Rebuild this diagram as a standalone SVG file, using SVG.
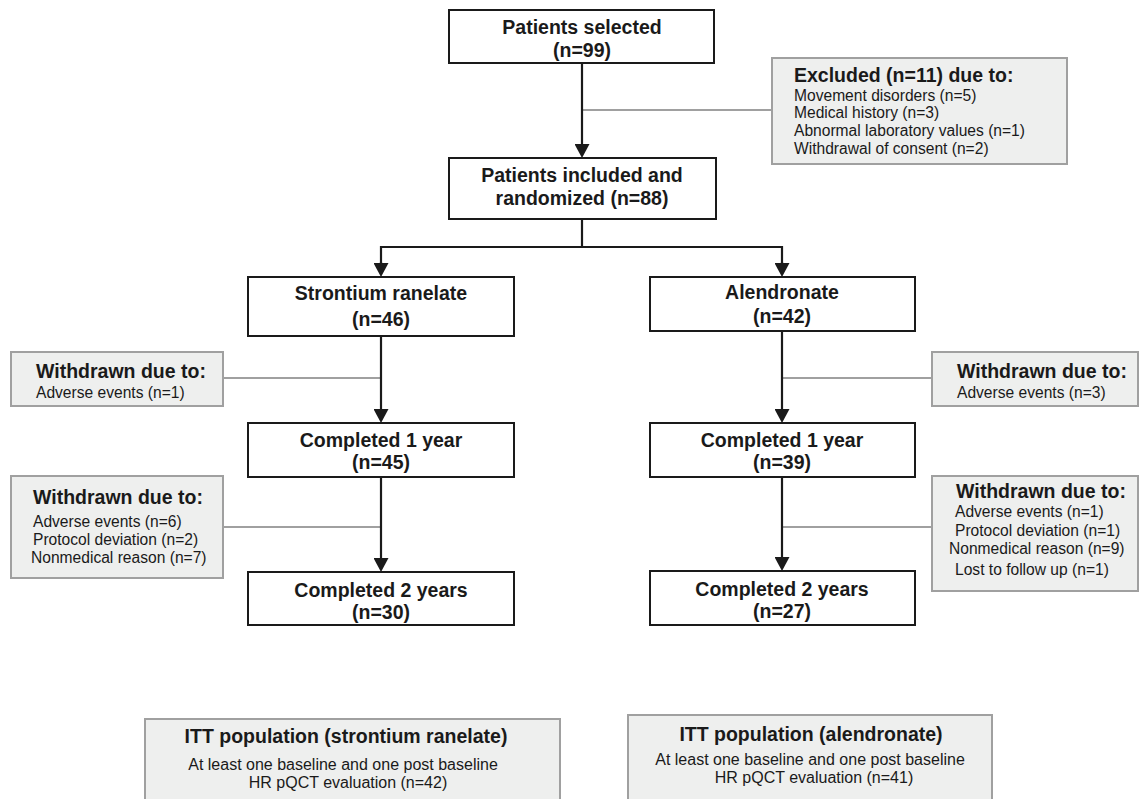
<svg xmlns="http://www.w3.org/2000/svg" width="1139" height="799" viewBox="0 0 1139 799">
<defs>
<style>
.box{fill:#ffffff;stroke:#1a1a1a;stroke-width:2}
.gbox{fill:#eeefee;stroke:#a0a0a0;stroke-width:2}
.ln{stroke:#1a1a1a;stroke-width:2.2;fill:none}
.gl{stroke:#a0a0a0;stroke-width:1.8;fill:none}
.t{font-family:"Liberation Sans",Arial,Helvetica,sans-serif;fill:#1a1a1a}
.b{font-size:19.5px;font-weight:bold}
.r{font-size:15.6px}
.r2{font-size:16px}
.m{text-anchor:middle}
</style>
<marker id="arr" markerUnits="userSpaceOnUse" viewBox="0 0 14 15" markerWidth="14" markerHeight="15" refX="7" refY="7.5" orient="auto">
<path d="M0,0 L14,7.5 L0,15 Z" fill="#1a1a1a"/>
</marker>
</defs>
<rect width="1139" height="799" fill="#ffffff"/>

<g id="connectors">
<line class="gl" x1="582" y1="110" x2="772" y2="110"/>
<line class="ln" x1="582" y1="63" x2="582" y2="151" marker-end="url(#arr)"/>
<line class="ln" x1="582" y1="207" x2="582" y2="247"/>
<polyline class="ln" points="381,270 381,247 782,247 782,270"/>
<line class="ln" x1="381" y1="262" x2="381" y2="270" marker-end="url(#arr)"/>
<line class="ln" x1="782" y1="262" x2="782" y2="270" marker-end="url(#arr)"/>
<line class="gl" x1="223" y1="378" x2="381" y2="378"/>
<line class="ln" x1="381" y1="336" x2="381" y2="416" marker-end="url(#arr)"/>
<line class="gl" x1="223" y1="527" x2="381" y2="527"/>
<line class="ln" x1="381" y1="477" x2="381" y2="565" marker-end="url(#arr)"/>
<line class="gl" x1="782" y1="378" x2="932" y2="378"/>
<line class="ln" x1="782" y1="331" x2="782" y2="416" marker-end="url(#arr)"/>
<line class="gl" x1="782" y1="527" x2="932" y2="527"/>
<line class="ln" x1="782" y1="477" x2="782" y2="564" marker-end="url(#arr)"/>
</g>

<g id="selected">
<rect class="box" x="449" y="10" width="265" height="53"/>
<text class="t b m" x="582" y="34">Patients selected</text>
<text class="t b m" x="582" y="57">(n=99)</text>
</g>

<g id="excluded">
<rect class="gbox" x="772" y="58" width="295" height="106"/>
<text class="t b" x="794" y="82">Excluded (n=11) due to:</text>
<text class="t r" x="794" y="100.5">Movement disorders (n=5)</text>
<text class="t r" x="794" y="118">Medical history (n=3)</text>
<text class="t r" x="794" y="136">Abnormal laboratory values (n=1)</text>
<text class="t r" x="794" y="153.5">Withdrawal of consent (n=2)</text>
</g>

<g id="randomized">
<rect class="box" x="449" y="158" width="267" height="61"/>
<text class="t b m" x="582" y="182">Patients included and</text>
<text class="t b m" x="582" y="205">randomized (n=88)</text>
</g>

<g id="strontium">
<rect class="box" x="248" y="277" width="266" height="59"/>
<text class="t b m" x="381" y="300">Strontium ranelate</text>
<text class="t b m" x="381" y="326">(n=46)</text>
</g>

<g id="alendronate">
<rect class="box" x="650" y="277" width="265" height="54"/>
<text class="t b m" x="782" y="299">Alendronate</text>
<text class="t b m" x="782" y="323">(n=42)</text>
</g>

<g id="withdrawn-s1">
<rect class="gbox" x="11" y="352" width="212" height="54"/>
<text class="t b" x="36" y="378">Withdrawn due to:</text>
<text class="t r" x="36" y="398">Adverse events (n=1)</text>
</g>

<g id="withdrawn-a1">
<rect class="gbox" x="932" y="352" width="206" height="54"/>
<text class="t b" x="957" y="378">Withdrawn due to:</text>
<text class="t r" x="957" y="398">Adverse events (n=3)</text>
</g>

<g id="completed1-s">
<rect class="box" x="248" y="423" width="266" height="54"/>
<text class="t b m" x="381" y="447">Completed 1 year</text>
<text class="t b m" x="381" y="469">(n=45)</text>
</g>

<g id="completed1-a">
<rect class="box" x="650" y="423" width="265" height="54"/>
<text class="t b m" x="782" y="447">Completed 1 year</text>
<text class="t b m" x="782" y="469">(n=39)</text>
</g>

<g id="withdrawn-s2">
<rect class="gbox" x="11" y="476" width="212" height="102"/>
<text class="t b" x="33" y="504">Withdrawn due to:</text>
<text class="t r" x="33" y="527">Adverse events (n=6)</text>
<text class="t r" x="33" y="545">Protocol deviation (n=2)</text>
<text class="t r" x="31" y="563">Nonmedical reason (n=7)</text>
</g>

<g id="withdrawn-a2">
<rect class="gbox" x="932" y="476" width="206" height="115"/>
<text class="t b" x="956" y="498">Withdrawn due to:</text>
<text class="t r" x="955" y="517">Adverse events (n=1)</text>
<text class="t r" x="955" y="536">Protocol deviation (n=1)</text>
<text class="t r" x="949" y="554">Nonmedical reason (n=9)</text>
<text class="t r" x="955" y="575">Lost to follow up (n=1)</text>
</g>

<g id="completed2-s">
<rect class="box" x="248" y="572" width="266" height="53"/>
<text class="t b m" x="381" y="597">Completed 2 years</text>
<text class="t b m" x="381" y="619">(n=30)</text>
</g>

<g id="completed2-a">
<rect class="box" x="650" y="571" width="265" height="54"/>
<text class="t b m" x="782" y="596">Completed 2 years</text>
<text class="t b m" x="782" y="618">(n=27)</text>
</g>

<g id="itt-s">
<rect class="gbox" x="145" y="719" width="415" height="90"/>
<text class="t b m" x="346" y="743">ITT population (strontium ranelate)</text>
<text class="t r2 m" x="343" y="770">At least one baseline and one post baseline</text>
<text class="t r2 m" x="348" y="788">HR pQCT evaluation (n=42)</text>
</g>

<g id="itt-a">
<rect class="gbox" x="628" y="715" width="364" height="94"/>
<text class="t b m" x="811" y="741">ITT population (alendronate)</text>
<text class="t r2 m" x="810" y="765">At least one baseline and one post baseline</text>
<text class="t r2 m" x="814" y="783">HR pQCT evaluation (n=41)</text>
</g>
</svg>
